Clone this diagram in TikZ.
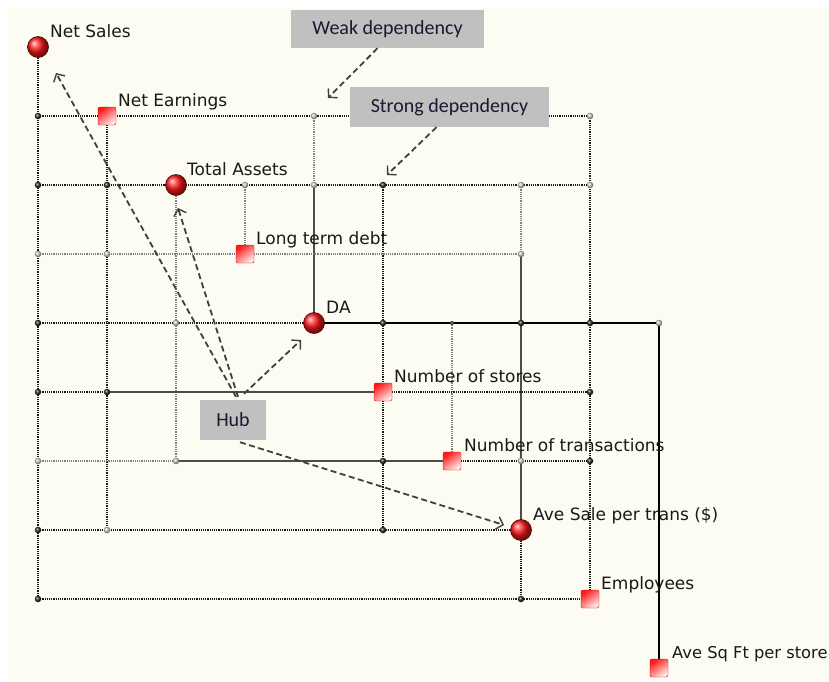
\documentclass[tikz,border=0pt]{standalone}
\usepackage{fontspec}
\setmainfont{DejaVu Sans}
\newfontfamily\boxfont{Carlito}
\usepackage{tikz}
\usetikzlibrary{shapes,arrows.meta,positioning,calc,shadings}
\definecolor{paper}{RGB}{252,252,243}
\definecolor{boxgray}{RGB}{192,192,192}
\definecolor{boxink}{RGB}{25,25,50}

\begin{document}
\begin{tikzpicture}[x=1pt,y=-1pt,
    weak/.style={dash pattern=on 1.1pt off 1.1pt, line width=1.1pt, black!90},
    faint/.style={dash pattern=on 1.1pt off 1.1pt, line width=1.1pt, black!50},
    strong/.style={line width=1.5pt, black!70},
    ball/.style={circle, inner sep=0pt, minimum size=21pt, ball color=red!90!white, draw=red!30!black, line width=0.6pt},
    sq/.style={rectangle, rounded corners=2pt, minimum size=18pt, inner sep=0pt, draw=red!80!black, top color=red!90, bottom color=red!8, shading angle=35},
    dot/.style={circle, inner sep=0pt, minimum size=6.5pt, ball color=black!85},
    gdot/.style={circle, inner sep=0pt, minimum size=6.5pt, ball color=black!20},
    lbl/.style={anchor=base west, inner sep=0pt, font=\fontsize{17}{20}\selectfont, text=black!90},
    tagbox/.style={fill=boxgray, inner sep=0pt, minimum height=39pt, font=\boxfont\fontsize{20}{24}\selectfont, text=boxink},
    dep/.style={dash pattern=on 6pt off 3.5pt, line width=1.8pt, black!75, -{Straight Barb[length=6pt,width=13pt,line width=1.4pt]}}]

    \useasboundingbox (0,0) rectangle (829,681);
    \fill[white] (0,0) rectangle (829,681);
    \fill[paper] (8,8) rectangle (829,680);

    % grid points: column c, row r
    \foreach \c in {0,...,9}
        \foreach \r in {0,...,9}
            \coordinate (g\c\r) at ({38+69*\c},{47+69*\r});

    % vertical links
    \draw[weak] (g00) -- (g08);
    \draw[weak] (g11) -- (g17);
    \draw[faint] (g22) -- (g26);
    \draw[faint] (g32) -- (g33);
    \draw[faint] (g41) -- (g42);
    \draw[strong] (g42) -- (g44);
    \draw[weak] (g52) -- (g57);
    \draw[faint] (g64) -- (g66);
    \draw[faint] (g72) -- (g73);
    \draw[strong] (g73) -- (g77);
    \draw[weak] (g77) -- (g78);
    \draw[weak] (g81) -- (g88);
    \draw[strong, black] (g94) -- (g99);

    % horizontal links
    \draw[weak] (g01) -- (g81);
    \draw[weak] (g02) -- (g82);
    \draw[faint] (g03) -- (g73);
    \draw[weak] (g04) -- (g44);
    \draw[strong, black] (g44) -- (g94);
    \draw[weak] (g05) -- (g15);
    \draw[strong] (g15) -- (g55);
    \draw[weak] (g55) -- (g85);
    \draw[faint] (g06) -- (g26);
    \draw[strong] (g26) -- (g66);
    \draw[weak] (g66) -- (g86);
    \draw[weak] (g07) -- (g77);
    \draw[weak] (g08) -- (g88);

    % corner dots
    \foreach \p in {01,02,12,52,04,54,74,84,05,15,85,56,86,07,57,08,78}
        \node[dot] (d\p) at (g\p) {};
    \node[dot, minimum size=4pt] (d64) at (g64) {};
    \foreach \p in {41,81,32,42,72,82,03,13,73,24,94,06,26,76,17}
        \node[gdot] (d\p) at (g\p) {};

    % measures
    \node[ball] (ns) at (g00) {};
    \node[sq] (ne) at (g11) {};
    \node[ball] (ta) at (g22) {};
    \node[sq] (ltd) at (g33) {};
    \node[ball] (da) at (g44) {};
    \node[sq] (stores) at (g55) {};
    \node[sq] (trans) at (g66) {};
    \node[ball] (avesale) at (g77) {};
    \node[sq] (emp) at (g88) {};
    \node[sq] (sqft) at (g99) {};

    \node[lbl] (nsl) at ([shift={(12,-10)}]ns.center) {Net Sales};
    \node[lbl] (nel) at ([shift={(11,-10)}]ne.center) {Net Earnings};
    \node[lbl] (tal) at ([shift={(11,-10)}]ta.center) {Total Assets};
    \node[lbl] (ltdl) at ([shift={(11,-10)}]ltd.center) {Long term debt};
    \node[lbl] (dal) at ([shift={(12,-10)}]da.center) {DA};
    \node[lbl] (storesl) at ([shift={(11,-10)}]stores.center) {Number of stores};
    \node[lbl] (transl) at ([shift={(12,-10)}]trans.center) {Number of transactions};
    \node[lbl] (avesalel) at ([shift={(12,-10)}]avesale.center) {Ave Sale per trans (\$)};
    \node[lbl] (empl) at ([shift={(11,-10)}]emp.center) {Employees};
    \node[lbl, font=\fontsize{16.3}{20}\selectfont] (sqftl) at ([shift={(13,-10)}]sqft.center) {Ave Sq Ft per store};

    % call-outs
    \node[tagbox, minimum width=193pt, minimum height=38pt] (weakbox) at (387.5,29) {Weak dependency};
    \node[tagbox, minimum width=199pt, minimum height=40pt] (strongbox) at (449.5,107) {Strong dependency};
    \node[tagbox, minimum width=66pt, minimum height=40pt] (hub) at (233,420) {Hub};

    \coordinate (wtip) at (328,98);
    \coordinate (stip) at (387,175);
    \coordinate (nstip) at (56,73);
    \coordinate (tatip) at (178,208);
    \coordinate (datip) at (301,340);
    \coordinate (avetip) at (504,525);

    \draw[dep] ([xshift=-10pt]weakbox.south) -- (wtip);
    \draw[dep] ([xshift=-13pt]strongbox.south) -- (stip);
    \draw[dep] ([shift={(3,-3)}]hub.north) -- (nstip);
    \draw[dep] ([shift={(5,-3)}]hub.north) -- (tatip);
    \draw[dep] ([shift={(11,-6)}]hub.north) -- (datip);
    \draw[dep] ([shift={(7,2)}]hub.south) -- (avetip);
\end{tikzpicture}
\end{document}
